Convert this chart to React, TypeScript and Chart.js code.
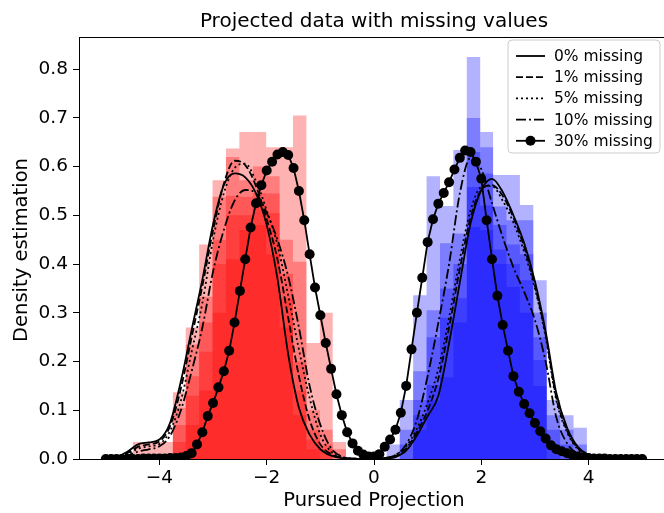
import React, { useEffect, useRef } from 'react';
import { Chart, registerables } from 'chart.js';

Chart.register(...registerables);

const FONT = '"DejaVu Sans", "Liberation Sans", sans-serif';

// ---------- text ----------
const titleText = 'Projected data with missing values';
const xAxisLabel = 'Pursued Projection';
const yAxisLabel = 'Density estimation';
const legendLabels = ['0% missing', '1% missing', '5% missing', '10% missing', '30% missing'];

// ---------- ticks ----------
const xTicks = [-4, -2, 0, 2, 4];
const yTicks = [0, 0.1, 0.2, 0.3, 0.4, 0.5, 0.6, 0.7, 0.8];

// ---------- histograms (shared bin grid) ----------
const redBinEdges = [-4.5, -4.25, -4.0, -3.75, -3.51, -3.26, -3.01, -2.76, -2.51, -2.26, -2.01, -1.76, -1.51, -1.26, -1.01, -0.77, -0.52];
const redHist0 = [0.035, 0, 0, 0.137, 0.27, 0.44, 0.572, 0.62, 0.572, 0.546, 0.505, 0.38, 0.2, 0.06, 0.02, 0];
const redHist1 = [0, 0.035, 0, 0.105, 0.235, 0.333, 0.538, 0.637, 0.671, 0.52, 0.545, 0.33, 0.14, 0.04, 0, 0];
const redHist5 = [0, 0, 0.035, 0.07, 0.17, 0.28, 0.45, 0.54, 0.538, 0.6, 0.42, 0.27, 0.09, 0.02, 0.03, 0];
const redHist10 = [0, 0, 0, 0.035, 0.13, 0.22, 0.4, 0.5, 0.5, 0.48, 0.58, 0.45, 0.405, 0.1, 0.06, 0.02];
const redHist30 = [0, 0, 0, 0, 0.07, 0.14, 0.3, 0.41, 0.47, 0.671, 0.64, 0.64, 0.705, 0.238, 0.3, 0.035];

const blueBinEdges = [0.23, 0.48, 0.73, 0.98, 1.23, 1.48, 1.73, 1.98, 2.22, 2.47, 2.72, 2.97, 3.22, 3.47, 3.72, 3.97];
const blueHist0 = [0, 0, 0.06, 0.12, 0.168, 0.28, 0.476, 0.586, 0.583, 0.583, 0.521, 0.367, 0.121, 0.09, 0.064];
const blueHist1 = [0, 0, 0.09, 0.152, 0.29, 0.33, 0.558, 0.64, 0.518, 0.49, 0.49, 0.3, 0.09, 0.06, 0.03];
const blueHist5 = [0, 0.03, 0.121, 0.25, 0.35, 0.4, 0.63, 0.671, 0.48, 0.44, 0.42, 0.25, 0.06, 0.03, 0];
const blueHist10 = [0, 0.06, 0.18, 0.305, 0.443, 0.463, 0.825, 0.52, 0.43, 0.4, 0.367, 0.203, 0.03, 0, 0];
const blueHist30 = [0.03, 0.121, 0.336, 0.58, 0.519, 0.634, 0.7, 0.47, 0.4, 0.353, 0.3, 0.15, 0, 0, 0];

// ---------- density curves ----------
const kdeXCoarse = [
  -5.0, -4.8, -4.6, -4.4, -4.2, -4.0, -3.8, -3.6, -3.4, -3.2, -3.0, -2.8, -2.6, -2.4, -2.2, -2.0, -1.8,
  -1.6, -1.4, -1.2, -1.0, -0.8, -0.6, -0.4, -0.2, 0.0, 0.2, 0.4, 0.6, 0.8, 1.0, 1.2, 1.4, 1.6, 1.8, 2.0,
  2.2, 2.4, 2.6, 2.8, 3.0, 3.2, 3.4, 3.6, 3.8, 4.0, 4.2, 4.4, 4.6, 4.8, 5.0,
];
const kde0 = [
  0.0, 0.004, 0.015, 0.03, 0.034, 0.04, 0.075, 0.16, 0.265, 0.368, 0.482, 0.562, 0.586, 0.578, 0.545, 0.48, 0.37,
  0.215, 0.105, 0.05, 0.02, 0.007, 0.002, 0.0, 0.0, 0.0, 0.001, 0.004, 0.017, 0.048, 0.088, 0.13, 0.238, 0.362, 0.483, 0.552,
  0.575, 0.548, 0.5, 0.443, 0.365, 0.262, 0.135, 0.064, 0.025, 0.009, 0.003, 0.001, 0.0, 0.0, 0.0,
];
const kde1 = [
  0.0, 0.003, 0.012, 0.025, 0.03, 0.036, 0.068, 0.145, 0.25, 0.355, 0.47, 0.565, 0.612, 0.603, 0.56, 0.492, 0.41,
  0.29, 0.17, 0.08, 0.03, 0.01, 0.003, 0.001, 0.0, 0.0, 0.002, 0.006, 0.022, 0.055, 0.1, 0.165, 0.27, 0.39, 0.495, 0.552,
  0.562, 0.54, 0.495, 0.435, 0.355, 0.255, 0.125, 0.058, 0.022, 0.008, 0.002, 0.001, 0.0, 0.0, 0.0,
];
const kde5 = [
  0.0, 0.002, 0.01, 0.021, 0.026, 0.031, 0.058, 0.12, 0.22, 0.32, 0.45, 0.545, 0.597, 0.606, 0.57, 0.51, 0.44,
  0.335, 0.225, 0.125, 0.05, 0.015, 0.003, 0.001, 0.0, 0.0, 0.002, 0.008, 0.026, 0.062, 0.115, 0.185, 0.29, 0.41, 0.51, 0.558,
  0.56, 0.53, 0.485, 0.425, 0.35, 0.25, 0.12, 0.055, 0.02, 0.007, 0.002, 0.001, 0.0, 0.0, 0.0,
];
const kde10 = [
  0.0, 0.002, 0.007, 0.015, 0.02, 0.026, 0.048, 0.1, 0.18, 0.27, 0.385, 0.47, 0.53, 0.552, 0.545, 0.505, 0.45,
  0.375, 0.27, 0.15, 0.07, 0.022, 0.005, 0.001, 0.0, 0.0, 0.002, 0.008, 0.03, 0.08, 0.17, 0.28, 0.4, 0.545, 0.618, 0.595,
  0.525, 0.455, 0.393, 0.343, 0.285, 0.2, 0.085, 0.032, 0.01, 0.003, 0.001, 0.0, 0.0, 0.0, 0.0,
];

const kdeXFine = [
  -5.0, -4.9, -4.8, -4.7, -4.6, -4.5, -4.4, -4.3, -4.2, -4.1, -4.0, -3.9, -3.8, -3.7, -3.6, -3.5, -3.4, -3.3, -3.2, -3.1,
  -3.0, -2.9, -2.8, -2.7, -2.6, -2.5, -2.4, -2.3, -2.2, -2.1, -2.0, -1.9, -1.8, -1.7, -1.6, -1.5, -1.4, -1.3, -1.2, -1.1,
  -1.0, -0.9, -0.8, -0.7, -0.6, -0.5, -0.4, -0.3, -0.2, -0.1, 0.0, 0.1, 0.2, 0.3, 0.4, 0.5, 0.6, 0.7, 0.8, 0.9,
  1.0, 1.1, 1.2, 1.3, 1.4, 1.5, 1.6, 1.7, 1.8, 1.9, 2.0, 2.1, 2.2, 2.3, 2.4, 2.5, 2.6, 2.7, 2.8, 2.9,
  3.0, 3.1, 3.2, 3.3, 3.4, 3.5, 3.6, 3.7, 3.8, 3.9, 4.0, 4.1, 4.2, 4.3, 4.4, 4.5, 4.6, 4.7, 4.8, 4.9, 5.0,
];
const kde30 = [
  0.0, 0.0, 0.0, 0.0, 0.0, 0.0, 0.0, 0.001, 0.001, 0.001, 0.001, 0.001, 0.002, 0.002, 0.003, 0.006, 0.012, 0.03, 0.055, 0.088,
  0.115, 0.147, 0.18, 0.222, 0.28, 0.345, 0.41, 0.475, 0.525, 0.562, 0.592, 0.61, 0.625, 0.63, 0.624, 0.597, 0.55, 0.49, 0.42, 0.352,
  0.295, 0.238, 0.185, 0.133, 0.09, 0.055, 0.032, 0.017, 0.009, 0.005, 0.005, 0.01, 0.025, 0.04, 0.06, 0.095, 0.15, 0.225, 0.3, 0.372,
  0.445, 0.492, 0.524, 0.546, 0.568, 0.594, 0.618, 0.633, 0.63, 0.61, 0.575, 0.49, 0.41, 0.335, 0.275, 0.222, 0.17, 0.138, 0.113, 0.094,
  0.074, 0.057, 0.042, 0.028, 0.02, 0.016, 0.012, 0.008, 0.005, 0.003, 0.002, 0.001, 0.001, 0.001, 0.0, 0.0, 0.0, 0.0, 0.0, 0.0, 0.0,
];

// ---------- helpers ----------
function histPoints(edges: number[], heights: number[]) {
  const pts = heights.map((h, i) => ({ x: edges[i], y: h }));
  pts.push({ x: edges[edges.length - 1], y: 0 });
  return pts;
}
function curvePoints(xs: number[], ys: number[]) {
  return xs.map((x, i) => ({ x, y: ys[i] }));
}
function fmtX(v: number) {
  return v < 0 ? '\u2212' + Math.abs(v) : String(v);
}

const RED = 'rgba(255,0,0,0.3)';
const BLUE = 'rgba(0,0,255,0.3)';
const DASHES: number[][] = [[], [7, 3], [2, 3], [10, 3, 2, 3], []];

const decorPlugin = {
  id: 'decor',
  afterDraw(chart: any) {
    const { ctx, chartArea: a } = chart;
    ctx.save();
    // frame
    ctx.strokeStyle = '#000';
    ctx.lineWidth = 1;
    ctx.setLineDash([]);
    ctx.strokeRect(a.left + 0.5, a.top + 0.5, a.right - a.left - 1, a.bottom - a.top);
    // title
    ctx.fillStyle = '#000';
    ctx.textAlign = 'center';
    ctx.textBaseline = 'alphabetic';
    ctx.font = `20px ${FONT}`;
    ctx.fillText(titleText, (a.left + a.right) / 2, 27);
    // x label
    ctx.font = `19.5px ${FONT}`;
    ctx.fillText(xAxisLabel, (a.left + a.right) / 2, 506);
    // y label
    ctx.save();
    ctx.translate(22, (a.top + a.bottom) / 2 + 2);
    ctx.rotate(-Math.PI / 2);
    ctx.textBaseline = 'middle';
    ctx.fillText(yAxisLabel, 0, 0);
    ctx.restore();
    // legend
    const lx = 508, ly = 40, lw = 152, lh = 113, r = 4;
    ctx.beginPath();
    ctx.moveTo(lx + r, ly);
    ctx.lineTo(lx + lw - r, ly);
    ctx.quadraticCurveTo(lx + lw, ly, lx + lw, ly + r);
    ctx.lineTo(lx + lw, ly + lh - r);
    ctx.quadraticCurveTo(lx + lw, ly + lh, lx + lw - r, ly + lh);
    ctx.lineTo(lx + r, ly + lh);
    ctx.quadraticCurveTo(lx, ly + lh, lx, ly + lh - r);
    ctx.lineTo(lx, ly + r);
    ctx.quadraticCurveTo(lx, ly, lx + r, ly);
    ctx.closePath();
    ctx.fillStyle = 'rgba(255,255,255,0.8)';
    ctx.fill();
    ctx.strokeStyle = '#cccccc';
    ctx.lineWidth = 1;
    ctx.stroke();
    ctx.font = `15.5px ${FONT}`;
    ctx.textAlign = 'left';
    ctx.textBaseline = 'middle';
    legendLabels.forEach((lab, i) => {
      const y = 56 + i * 21.2;
      ctx.strokeStyle = '#000';
      ctx.lineWidth = 1.8;
      ctx.setLineDash(DASHES[i]);
      ctx.beginPath();
      ctx.moveTo(516, y);
      ctx.lineTo(545, y);
      ctx.stroke();
      ctx.setLineDash([]);
      if (i === 4) {
        ctx.beginPath();
        ctx.arc(530.5, y, 5, 0, Math.PI * 2);
        ctx.fillStyle = '#000';
        ctx.fill();
      }
      ctx.fillStyle = '#000';
      ctx.fillText(lab, 554, y + 1);
    });
    ctx.restore();
  },
};

export default function App() {
  const ref = useRef<HTMLCanvasElement | null>(null);

  useEffect(() => {
    if (!ref.current) return;
    const lineDs = (label: string, xs: number[], ys: number[], i: number) => ({
      type: 'line',
      label,
      data: curvePoints(xs, ys),
      borderColor: '#000',
      borderWidth: 1.8,
      borderDash: DASHES[i],
      pointRadius: i === 4 ? 5 : 0,
      pointBackgroundColor: '#000',
      pointBorderWidth: 0,
      fill: false,
      tension: 0,
      cubicInterpolationMode: i === 4 ? 'default' : 'monotone',
      order: 0,
    });
    const histDs = (label: string, edges: number[], h: number[], color: string) => ({
      type: 'line',
      label,
      data: histPoints(edges, h),
      stepped: 'before',
      fill: 'origin',
      backgroundColor: color,
      borderColor: 'rgba(0,0,0,0)',
      borderWidth: 0,
      pointRadius: 0,
      order: 1,
    });

    const datasets: any[] = [
      lineDs(legendLabels[4], kdeXFine, kde30, 4),
      lineDs(legendLabels[0], kdeXCoarse, kde0, 0),
      lineDs(legendLabels[1], kdeXCoarse, kde1, 1),
      lineDs(legendLabels[2], kdeXCoarse, kde5, 2),
      lineDs(legendLabels[3], kdeXCoarse, kde10, 3),
      histDs('r0', redBinEdges, redHist0, RED),
      histDs('r1', redBinEdges, redHist1, RED),
      histDs('r5', redBinEdges, redHist5, RED),
      histDs('r10', redBinEdges, redHist10, RED),
      histDs('r30', redBinEdges, redHist30, RED),
      histDs('b0', blueBinEdges, blueHist0, BLUE),
      histDs('b1', blueBinEdges, blueHist1, BLUE),
      histDs('b5', blueBinEdges, blueHist5, BLUE),
      histDs('b10', blueBinEdges, blueHist10, BLUE),
      histDs('b30', blueBinEdges, blueHist30, BLUE),
    ];

    const tickFont = { family: FONT, size: 18.5 };
    const chart = new Chart(ref.current, {
      type: 'line',
      data: { datasets },
      options: {
        responsive: false,
        maintainAspectRatio: false,
        animation: false,
        devicePixelRatio: 1,
        events: [],
        layout: { padding: { top: 37, right: 11, left: 0, bottom: 0 } },
        plugins: {
          legend: { display: false },
          tooltip: { enabled: false },
          title: { display: false },
        },
        scales: {
          x: {
            type: 'linear',
            min: -5.5,
            max: 5.5,
            afterBuildTicks: (s: any) => {
              s.ticks = xTicks.map((v) => ({ value: v }));
            },
            afterFit: (s: any) => {
              s.height = 54;
            },
            ticks: {
              callback: (v: any) => fmtX(Number(v)),
              font: tickFont,
              color: '#000',
              padding: 2,
              maxRotation: 0,
              autoSkip: false,
            },
            grid: {
              display: true,
              drawOnChartArea: false,
              drawTicks: true,
              tickLength: 6,
              tickColor: '#000',
              tickWidth: 1,
            },
            border: { display: false },
          },
          y: {
            type: 'linear',
            min: 0,
            max: 0.866,
            afterBuildTicks: (s: any) => {
              s.ticks = yTicks.map((v) => ({ value: v }));
            },
            afterFit: (s: any) => {
              s.width = 79;
            },
            ticks: {
              callback: (v: any) => Number(v).toFixed(1),
              font: tickFont,
              color: '#000',
              padding: 5,
              autoSkip: false,
            },
            grid: {
              display: true,
              drawOnChartArea: false,
              drawTicks: true,
              tickLength: 6,
              tickColor: '#000',
              tickWidth: 1,
            },
            border: { display: false },
          },
        },
      } as any,
      plugins: [decorPlugin as any],
    });
    return () => chart.destroy();
  }, []);

  return (
    <div
      style={{
        position: 'fixed',
        left: 0,
        top: 0,
        width: 664,
        height: 513,
        overflow: 'hidden',
        background: '#fff',
      }}
    >
      <canvas ref={ref} width={680} height={513} style={{ display: 'block', width: 680, height: 513 }} />
    </div>
  );
}
